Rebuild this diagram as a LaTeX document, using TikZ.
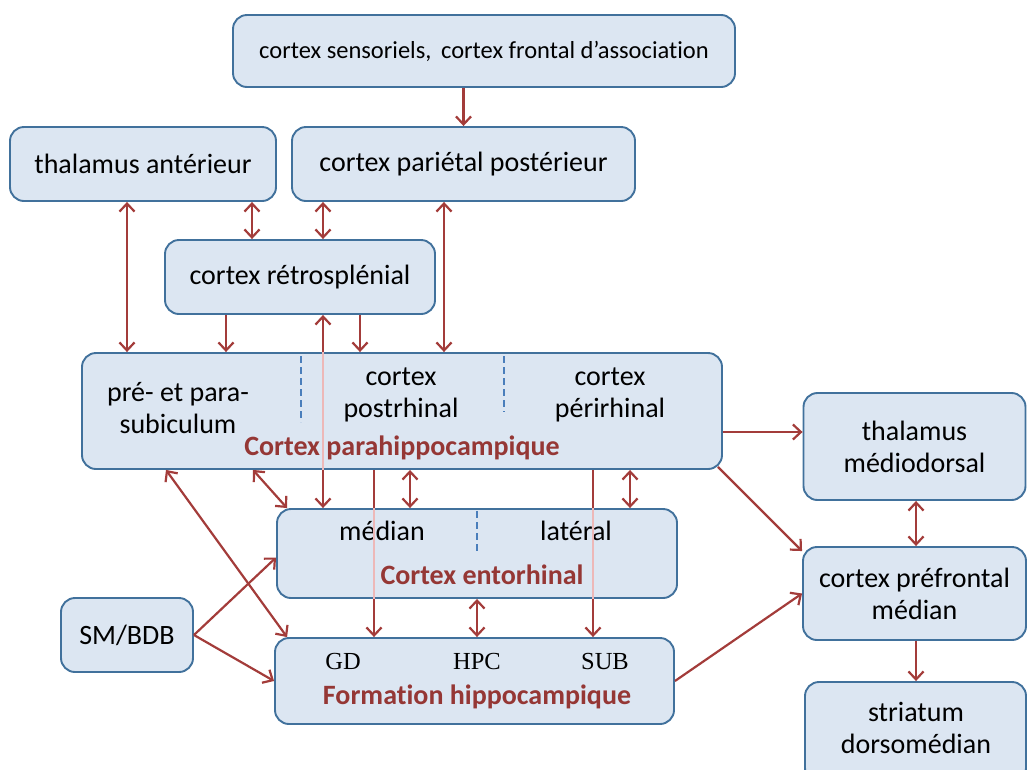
\documentclass[tikz,border=0pt]{standalone}
\usepackage{fontspec}
\setmainfont[Ligatures=NoCommon]{Carlito}
\newfontfamily\tnr{Liberation Serif}
\usetikzlibrary{arrows.meta,calc}
\definecolor{boxfill}{HTML}{DCE6F2}
\definecolor{boxline}{HTML}{41719C}
\definecolor{arrc}{HTML}{A33C3A}
\definecolor{titc}{HTML}{953735}
\definecolor{pinkc}{HTML}{EDB8B8}
\definecolor{dashc}{HTML}{4A7EBB}
\pgfdeclarelayer{background}
\pgfsetlayers{background,main}
\tikzset{
  box/.style={draw=boxline, line width=1.9pt, fill=boxfill, rounded corners=14pt, inner sep=0pt},
  lbl/.style={align=center, font=\fontsize{28}{32}\selectfont, inner sep=0pt},
  ttl/.style={font=\fontsize{28}{30}\selectfont\bfseries, text=titc, inner sep=0pt},
  sublbl/.style={font=\fontsize{24.5}{28}\selectfont\tnr, inner sep=0pt},
  conn/.style={draw=arrc, line width=2.2pt, >={Straight Barb[length=8pt,width=15pt]}},
  pinkline/.style={draw=pinkc, line width=2.2pt},
  divline/.style={draw=dashc, line width=1.6pt, dash pattern=on 7pt off 4pt}
}
\begin{document}
\begin{tikzpicture}[x=1pt,y=-1pt]
\useasboundingbox (0,0) rectangle (1027,769);
\clip (0,0) rectangle (1027,769);
% ---------- boxes
\node[box,lbl,font=\fontsize{24.5}{28}\selectfont,minimum width=502pt,minimum height=72pt] (top) at (484,51) {cortex sensoriels,\hspace{4pt} cortex frontal d’association};
\node[box,lbl,minimum width=266pt,minimum height=74pt] (ta) at (143,164) {thalamus antérieur};
\node[box,lbl,minimum width=343pt,minimum height=74pt] (pp) at (463.5,164) {cortex pariétal postérieur};
\node[box,lbl,minimum width=270pt,minimum height=74pt] (rs) at (300,277) {cortex rétrosplénial};
\node[box,minimum width=640pt,minimum height=116pt] (ph) at (402,411) {};
\node[box,lbl,minimum width=222pt,minimum height=107pt] (tmd) at (914.5,446.5) {thalamus\\médiodorsal};
\node[box,lbl,minimum width=223pt,minimum height=93pt] (pfm) at (914.5,593.5) {cortex préfrontal\\médian};
\node[box,minimum width=221pt,minimum height=100pt] (sdm) at (915.5,732) {};
\node[lbl] (sdmt) at (916,728) {striatum\\dorsomédian};
\node[box,minimum width=400pt,minimum height=89pt] (ent) at (477,553.5) {};
\node[box,minimum width=399pt,minimum height=86pt] (fh) at (474.5,681) {};
\node[box,lbl,minimum width=132pt,minimum height=74pt] (sm) at (127,635) {SM/BDB};
% ---------- texts inside the composite boxes
\node[lbl] (tsub) at (178,408) {pré- et para-\\subiculum};
\node[lbl] (tpost) at (401,395) {cortex\\postrhinal};
\node[lbl] (tperi) at (610,395) {cortex\\périrhinal};
\node[ttl] (tph) at (402,448) {Cortex parahippocampique};
\node[lbl] (tmed) at (382,531) {médian};
\node[lbl] (tlat) at (576,531) {latéral};
\node[ttl] (tent) at (482,575) {Cortex entorhinal};
\node[sublbl] (tgd) at (343,661) {GD};
\node[sublbl] (thpc) at (477,661) {HPC};
\node[sublbl] (tsubf) at (605,661) {SUB};
\node[ttl] (tfh) at (477,697) {Formation hippocampique};
% ---------- dividers
\coordinate (d1) at (301,356);
\coordinate (d1e) at (301,422);
\coordinate (d2) at (504,356);
\coordinate (d2e) at (504,412);
\coordinate (d3) at (477,511);
\coordinate (d3e) at (477,551);
\draw[divline] (d1) -- (d1e);
\draw[divline] (d2) -- (d2e);
\draw[divline] (d3) -- (d3e);
% ---------- vertical guides
\coordinate (x127) at (127,0);
\coordinate (x226) at (226,0);
\coordinate (x252) at (252,0);
\coordinate (x323) at (323,0);
\coordinate (x360) at (360,0);
\coordinate (x374) at (374,0);
\coordinate (x410) at (410,0);
\coordinate (x444) at (444,0);
\coordinate (x593) at (593,0);
\coordinate (x630) at (630,0);
\coordinate (x477) at (477,0);
\coordinate (x916) at (916,0);
\coordinate (y432) at (0,432);
% ---------- connectors behind boxes
\begin{pgfonlayer}{background}
\draw[conn,<->] (x323 |- rs.south) -- (x323 |- ent.north);
\draw[conn,->] (x374 |- ph.south) -- (x374 |- fh.north);
\draw[conn,->] (x593 |- ph.south) -- (x593 |- fh.north);
\end{pgfonlayer}
\draw[pinkline] (x323 |- ph.north) -- (x323 |- ph.south);
\draw[pinkline] (x374 |- ent.north) -- (x374 |- ent.south);
\draw[pinkline] (x593 |- ent.north) -- (x593 |- ent.south);
% ---------- connectors
\draw[conn,->] (pp.north |- top.south) -- (pp.north);
\draw[conn,<->] (x127 |- ta.south) -- (x127 |- ph.north);
\draw[conn,<->] (x252 |- ta.south) -- (x252 |- rs.north);
\draw[conn,<->] (x323 |- pp.south) -- (x323 |- rs.north);
\draw[conn,<->] (x444 |- pp.south) -- (x444 |- ph.north);
\draw[conn,->] (x226 |- rs.south) -- (x226 |- ph.north);
\draw[conn,->] (x360 |- rs.south) -- (x360 |- ph.north);
\draw[conn,<->] (x410 |- ph.south) -- (x410 |- ent.north);
\draw[conn,<->] (x630 |- ph.south) -- (x630 |- ent.north);
\draw[conn,<->] (x477 |- ent.south) -- (x477 |- fh.north);
\draw[conn,->] (ph.east |- y432) -- (tmd.west |- y432);
\draw[conn,->] ([shift={(-5,-3)}]ph.south east) -- ([shift={(0,5)}]pfm.north west);
\draw[conn,->] (fh.east) -- (pfm.west);
\draw[conn,<->] (x916 |- tmd.south) -- (x916 |- pfm.north);
\draw[conn,->] (x916 |- pfm.south) -- (x916 |- sdm.north);
\draw[conn,<->] ([xshift=-236pt]ph.south) -- ([xshift=13pt]fh.north west);
\draw[conn,<->] ([xshift=-149pt]ph.south) -- ([xshift=11pt]ent.north west);
\draw[conn,->] (sm.east) -- ([shift={(0,4)}]ent.west);
\draw[conn,->] (sm.east) -- (fh.west);
\end{tikzpicture}
\end{document}
